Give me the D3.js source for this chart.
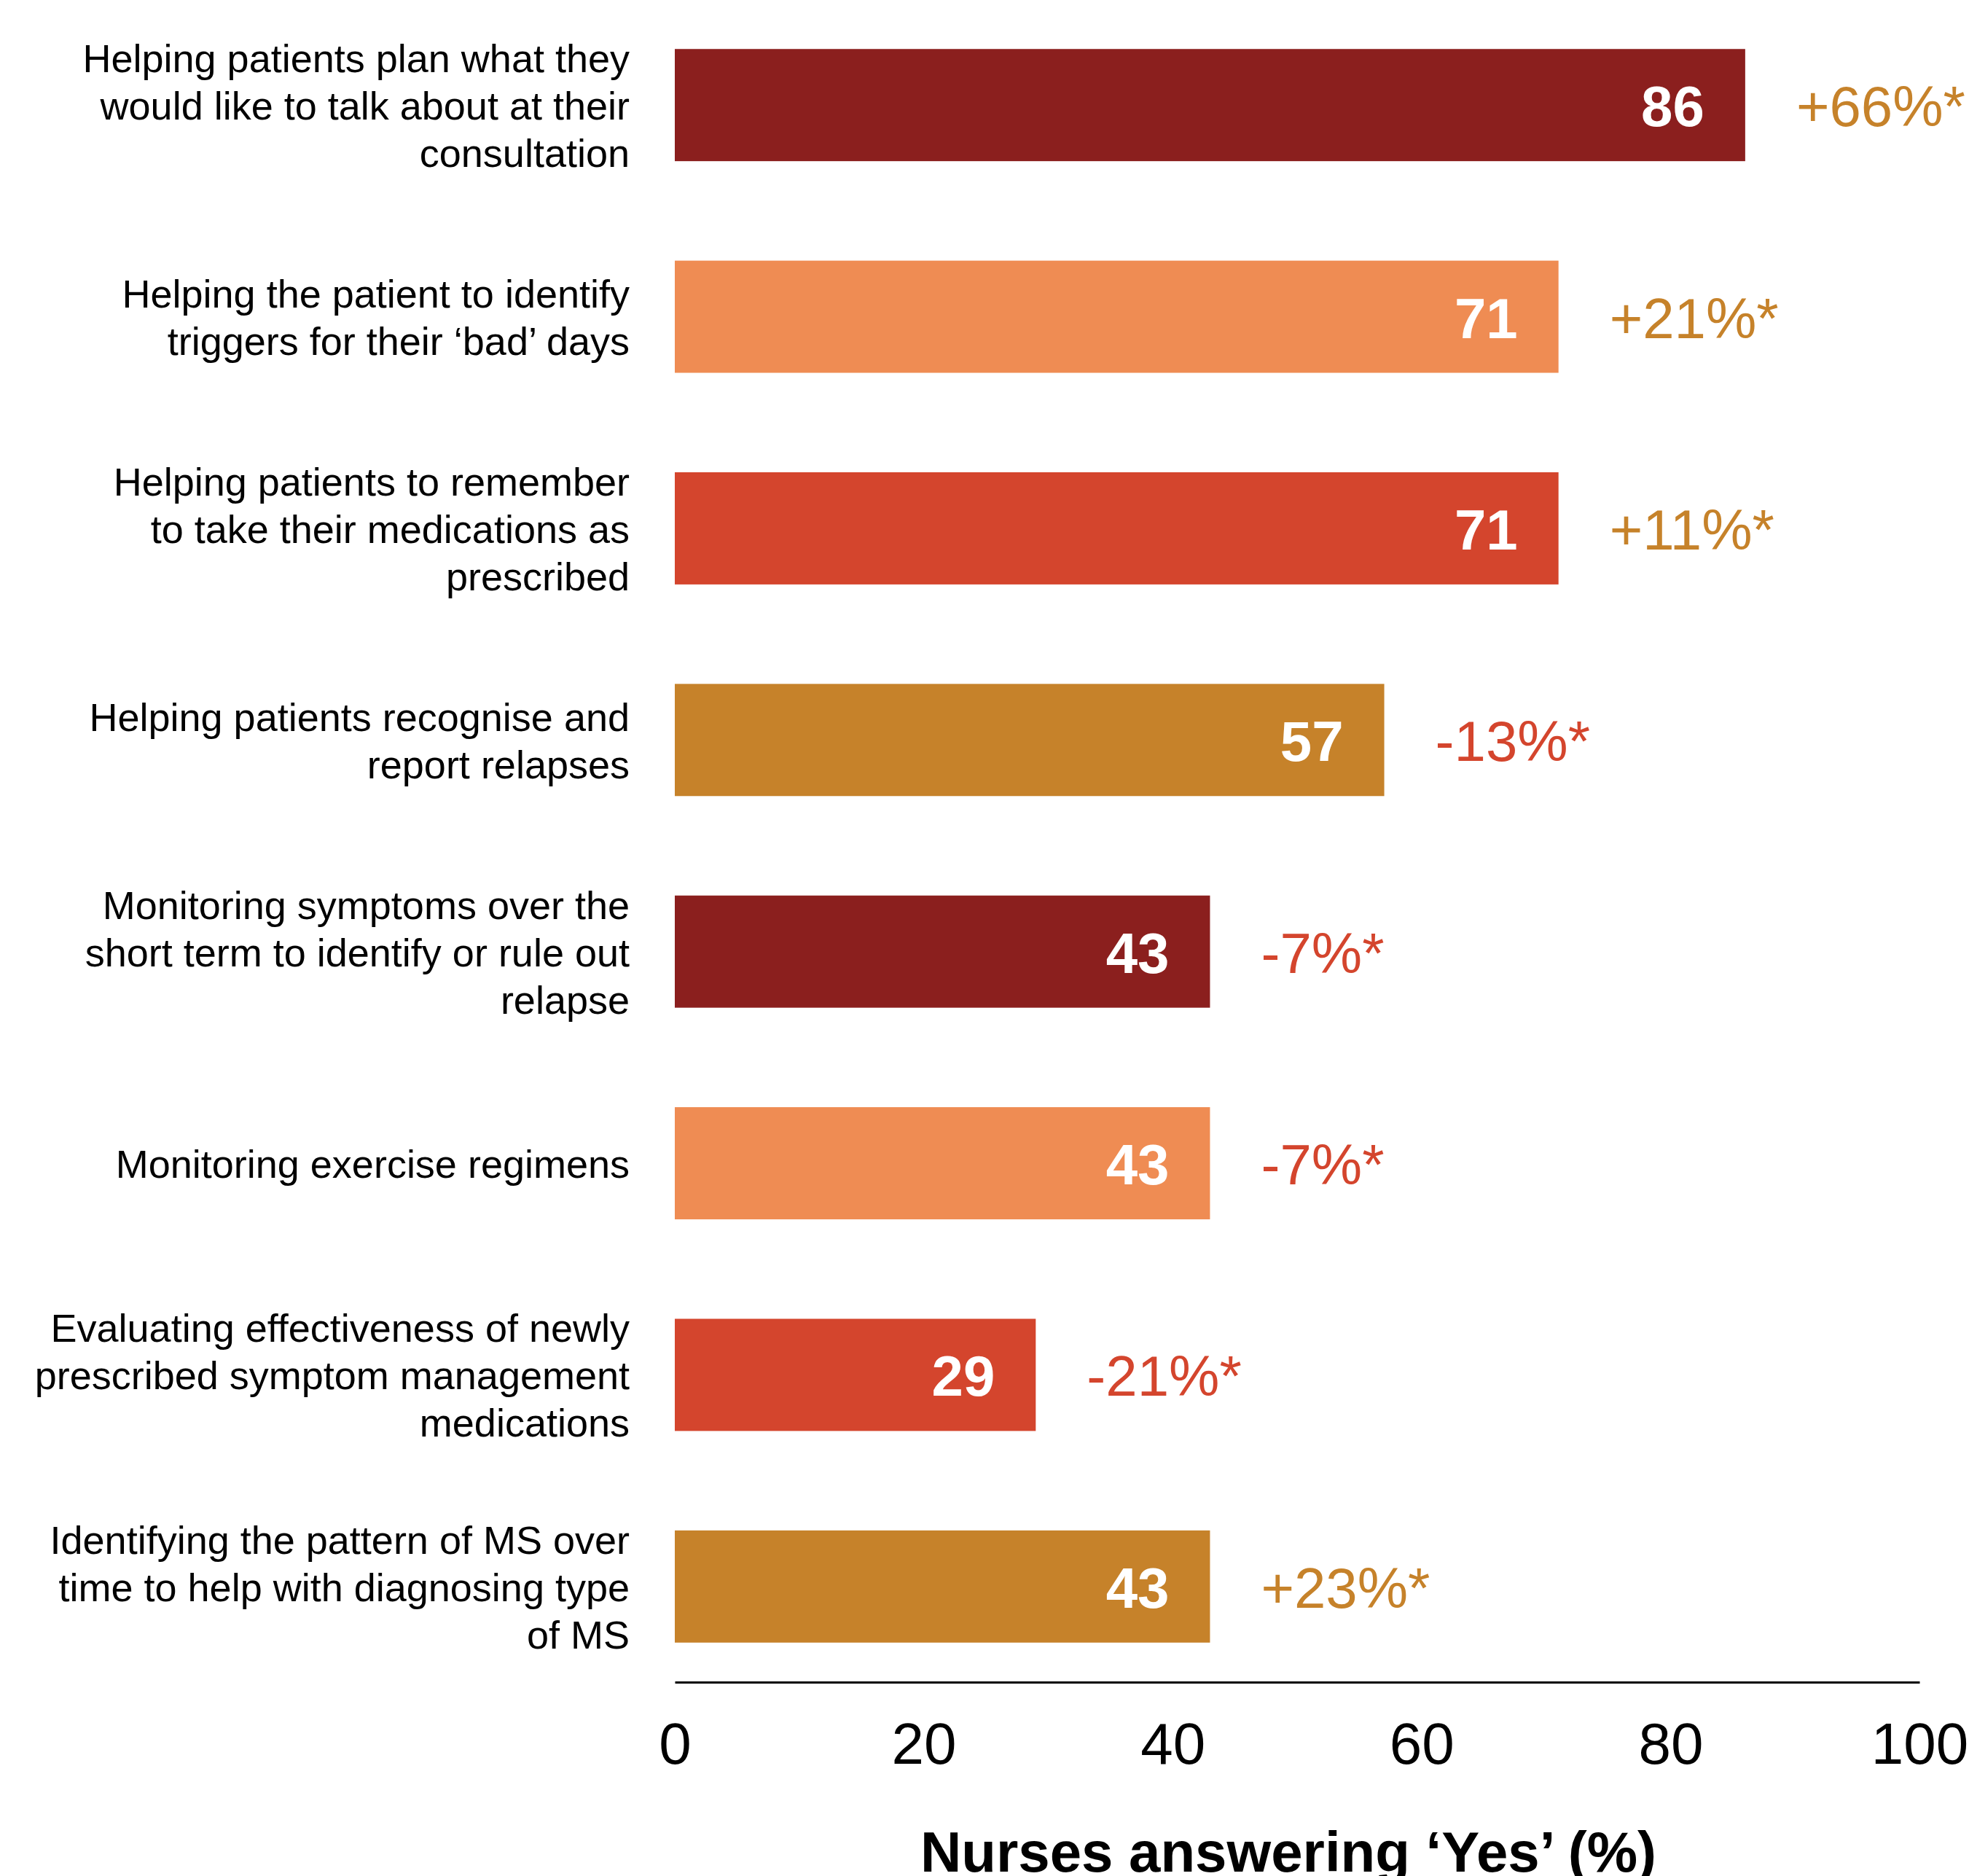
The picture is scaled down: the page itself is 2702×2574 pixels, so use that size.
<!DOCTYPE html>
<html>
<head>
<meta charset="utf-8">
<script src="https://cdn.jsdelivr.net/npm/d3@7"></script>
<style>
  body { margin: 0; background: #fff; }
  svg { font-family: "Liberation Sans", Arial, sans-serif; }
</style>
</head>
<body>
<svg width="2702" height="2574"></svg>
<script>
// Chart data
const categories = [
    ["Helping patients plan what they", "would like to talk about at their", "consultation"],
    ["Helping the patient to identify", "triggers for their \u2018bad\u2019 days"],
    ["Helping patients to remember", "to take their medications as", "prescribed"],
    ["Helping patients recognise and", "report relapses"],
    ["Monitoring symptoms over the", "short term to identify or rule out", "relapse"],
    ["Monitoring exercise regimens"],
    ["Evaluating effectiveness of newly", "prescribed symptom management", "medications"],
    ["Identifying the pattern of MS over", "time to help with diagnosing type", "of MS"]
];
const values = [86, 71, 71, 57, 43, 43, 29, 43];
const changes = ["+66%*", "+21%*", "+11%*", "-13%*", "-7%*", "-7%*", "-21%*", "+23%*"];
const ticks = [0, 20, 40, 60, 80, 100];

const barColors = ["#8B1F1E", "#EF8C53", "#D4452D", "#C6822A"];
const upColor = "#C6822A";
const downColor = "#D4452D";

const svg = d3.select("svg");

// Scales
const xScale = d3.scaleLinear()
    .domain([0, 100])
    .range([926, 2634]);

const yScale = d3.scaleBand()
    .domain(d3.range(categories.length))
    .range([-1, 2322])
    .paddingInner(0.47)
    .paddingOuter(0.235);

// Bars
svg.selectAll("rect.bar")
    .data(values)
    .enter()
    .append("rect")
    .attr("class", "bar")
    .attr("x", xScale(0))
    .attr("y", (d, i) => yScale(i))
    .attr("width", d => xScale(d) - xScale(0))
    .attr("height", yScale.bandwidth())
    .attr("fill", (d, i) => barColors[i % barColors.length]);

// Value labels inside bars
svg.selectAll("text.value")
    .data(values)
    .enter()
    .append("text")
    .attr("class", "value")
    .attr("x", d => xScale(d) - 56)
    .attr("y", (d, i) => yScale(i) + yScale.bandwidth() / 2 + 29)
    .attr("text-anchor", "end")
    .attr("font-size", 78)
    .attr("font-weight", "bold")
    .attr("fill", "#fff")
    .text(d => d);

// Change labels to the right of bars
svg.selectAll("text.change")
    .data(changes)
    .enter()
    .append("text")
    .attr("class", "change")
    .attr("x", (d, i) => xScale(values[i]) + 70)
    .attr("y", (d, i) => yScale(i) + yScale.bandwidth() / 2 + 29)
    .attr("font-size", 78)
    .attr("fill", d => d[0] === "-" ? downColor : upColor)
    .text(d => d);

// Category labels
const lineH = 65;
const labels = svg.selectAll("text.cat")
    .data(categories)
    .enter()
    .append("text")
    .attr("class", "cat")
    .attr("text-anchor", "end")
    .attr("font-size", 54)
    .attr("fill", "#000");

labels.each(function(lines, i) {
    const mid = yScale(i) + yScale.bandwidth() / 2 + 20;
    const first = mid - (lines.length - 1) * lineH / 2;
    d3.select(this).selectAll("tspan")
        .data(lines)
        .enter()
        .append("tspan")
        .attr("x", 864)
        .attr("y", (d, j) => first + j * lineH)
        .text(d => d);
});

// X axis
const axis = svg.append("g")
    .attr("transform", "translate(0, 2308)")
    .call(d3.axisBottom(xScale)
        .tickValues(ticks)
        .tickSize(0)
        .tickPadding(55));

axis.select(".domain")
    .attr("stroke", "#000")
    .attr("stroke-width", 3);

axis.selectAll("text")
    .attr("font-size", 80)
    .attr("font-family", "'Liberation Sans', Arial, sans-serif")
    .attr("fill", "#000");

// X axis title
svg.append("text")
    .attr("x", 1768)
    .attr("y", 2568)
    .attr("text-anchor", "middle")
    .attr("font-size", 78)
    .attr("font-weight", "bold")
    .attr("fill", "#000")
    .text("Nurses answering \u2018Yes\u2019 (%)");
</script>
</body>
</html>
